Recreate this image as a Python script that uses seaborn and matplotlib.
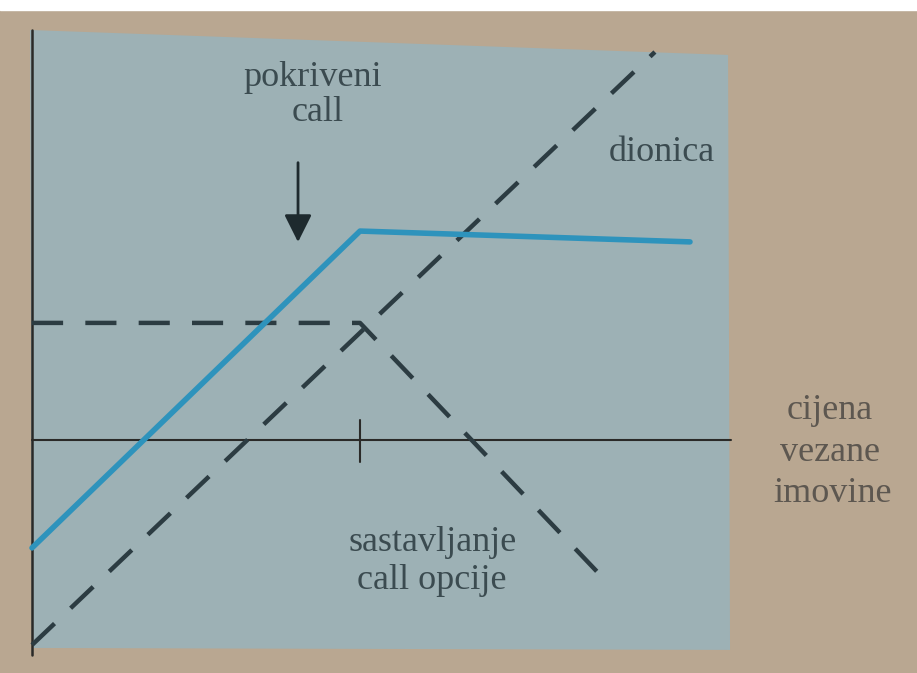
import pandas as pd
import seaborn as sns
import matplotlib.pyplot as plt
from matplotlib.patches import Polygon

# Vrijednosti očitane sa slike (jedinice: cijena vezane imovine / dobit)
dionica_x = [0.0, 18.99]
dionica_y = [-6.25, 11.83]

call_x = [0.0, 10.0, 17.47]
call_y = [3.57, 3.57, -4.27]

pokriveni_x = [0.0, 10.0, 20.06]
pokriveni_y = [-3.29, 6.37, 6.04]

strike = 10.0

df_dionica = pd.DataFrame({'x': dionica_x, 'y': dionica_y})
df_call = pd.DataFrame({'x': call_x, 'y': call_y})
df_pokriveni = pd.DataFrame({'x': pokriveni_x, 'y': pokriveni_y})

sns.set_style('white')
plt.rcParams['font.family'] = ['Liberation Serif', 'DejaVu Serif']

fig = plt.figure(figsize=(9.17, 6.73), dpi=100)
fig.patch.set_facecolor('#b9a791')
ax = fig.add_axes([0, 0, 1, 1])
ax.set_facecolor('#b9a791')
ax.set_xlim(-0.9756, 26.98)
ax.set_ylim(-7.104, 13.415)
ax.axis('off')

# bijela traka na vrhu i plavo-sivo polje
ax.axhspan(13.1, 13.5, color='white', zorder=0)
ax.add_patch(Polygon([(-0.06, 12.5), (21.22, 11.74), (21.28, -6.4), (0.0, -6.34)],
                     closed=True, facecolor='#9db1b5', edgecolor='none', zorder=0))

# osi
ax.plot([0, 0], [-6.55, 12.5], color='#2a2a28', lw=1.8, zorder=2)
ax.plot([0, 21.3], [0, 0], color='#2a2a28', lw=1.5, zorder=2)
ax.plot([strike, strike], [0.6, -0.67], color='#2a2a28', lw=1.5, zorder=2)

# linije
dash = (0, (7, 5))
sns.lineplot(data=df_dionica, x='x', y='y', ax=ax, sort=False, estimator=None,
             color='#2c3c42', lw=3.2, ls=dash, zorder=3)
sns.lineplot(data=df_call, x='x', y='y', ax=ax, sort=False, estimator=None,
             color='#2c3c42', lw=3.2, ls=dash, zorder=3)
sns.lineplot(data=df_pokriveni, x='x', y='y', ax=ax, sort=False, estimator=None,
             color='#2e93bc', lw=4, zorder=4)

ax.set_xlim(-0.9756, 26.98)
ax.set_ylim(-7.104, 13.415)

# tekstovi
txt = dict(color='#3b4b50', fontsize=26, ha='center', va='center')
ax.text(8.55, 11.04, 'pokriveni', **txt)
ax.text(8.72, 9.97, 'call', **txt)
ax.text(19.21, 8.78, 'dionica', **txt)
ax.text(12.2, -3.14, 'sastavljanje', **txt)
ax.text(12.2, -4.27, 'call opcije', **txt)

out = dict(color='#5d5750', fontsize=26, ha='center', va='center')
ax.text(24.33, 0.91, 'cijena', **out)
ax.text(24.33, -0.37, 'vezane', **out)
ax.text(24.39, -1.62, 'imovine', **out)

ax.annotate('', xy=(8.11, 5.95), xytext=(8.11, 8.54),
            arrowprops=dict(arrowstyle='-|>', color='#1e2a2e', lw=2,
                            mutation_scale=42))

fig.savefig('out.png', dpi=100, facecolor=fig.get_facecolor())
